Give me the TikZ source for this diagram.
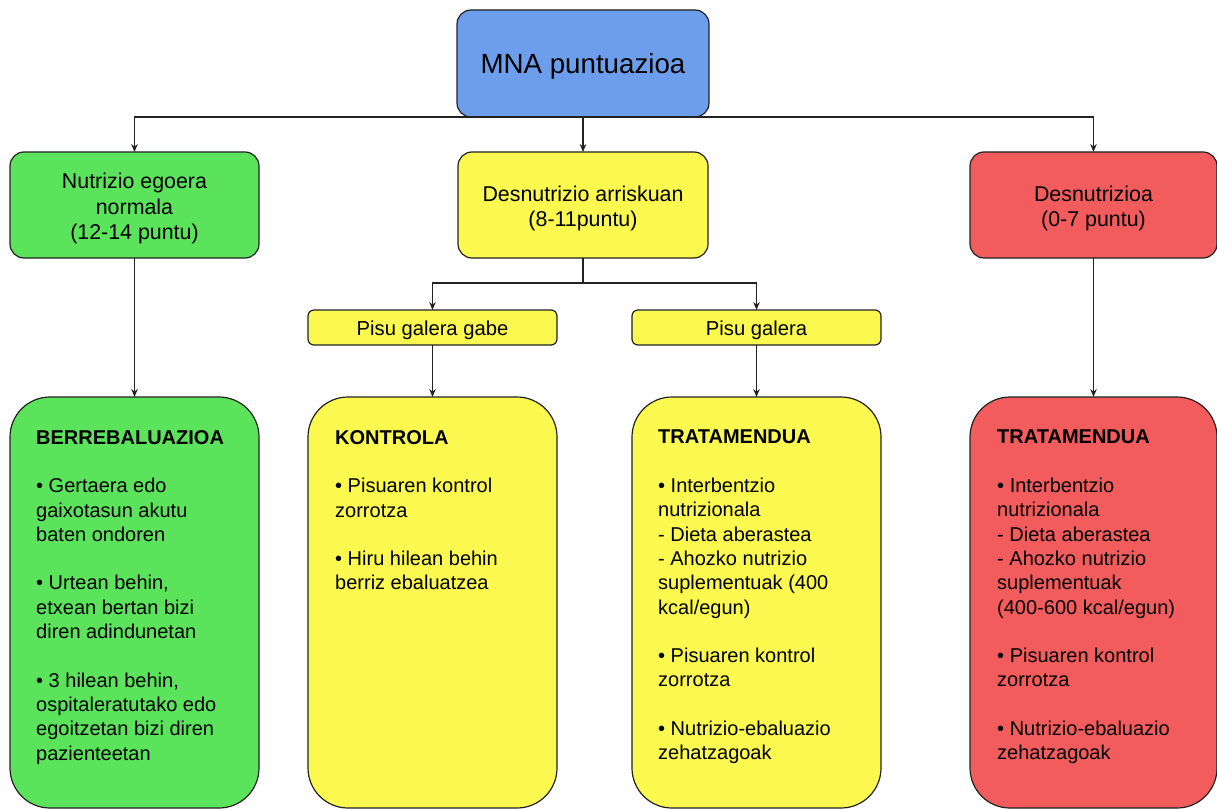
\documentclass[tikz,border=0pt]{standalone}
\usepackage{fontspec}
\setmainfont{Liberation Sans}
\usetikzlibrary{arrows.meta}
\definecolor{mnablue}{HTML}{6D9EEB}
\definecolor{boxgreen}{HTML}{5CE35C}
\definecolor{boxyellow}{HTML}{FBF850}
\definecolor{boxred}{HTML}{F35C5C}
\definecolor{edge}{HTML}{222222}
\begin{document}
\begin{tikzpicture}[x=1pt,y=-1pt,
  box/.style={draw=edge, line width=1.2pt, rounded corners=#1, inner sep=0pt, outer sep=0pt},
  box/.default=14pt,
  conn/.style={draw=edge, line width=1.2pt, -{Stealth[length=8pt,width=6.5pt]}},
  plain/.style={draw=edge, line width=1.2pt},
  titletext/.style={font=\fontsize{27.7}{32}\selectfont, inner sep=0pt},
  toptext/.style={font=\fontsize{21.4}{25.5}\selectfont, align=center, inner sep=0pt},
  subtext/.style={font=\fontsize{20.2}{24}\selectfont, inner sep=0pt},
  bodytext/.style={font=\fontsize{20}{24.3}\selectfont, align=left, inner sep=0pt, anchor=north west}]
\useasboundingbox (0,0) rectangle (1217,810);
\fill[white] (0,0) rectangle (1217,810);

% top
\node[box, fill=mnablue, minimum width=252pt, minimum height=107pt] (mna) at (583,63.5) {};
\node[titletext] (mnatext) at ([yshift=-2.5pt]mna.center) {MNA puntuazioa};

% second row
\node[box, fill=boxgreen, minimum width=249pt, minimum height=106pt] (normal) at (134.5,205) {};
\node[toptext] (normaltext) at ([yshift=-3.5pt]normal.center) {Nutrizio egoera\\normala\\(12-14 puntu)};
\node[box, fill=boxyellow, minimum width=250pt, minimum height=106pt] (risk) at (583,205) {};
\node[toptext] (risktext) at ([yshift=-3.5pt]risk.center) {Desnutrizio arriskuan\\(8-11puntu)};
\node[box, fill=boxred, minimum width=247pt, minimum height=106pt] (mal) at (1093.5,205) {};
\node[toptext] (maltext) at ([yshift=-3.5pt]mal.center) {Desnutrizioa\\(0-7 puntu)};

% sub boxes
\node[box=6pt, fill=boxyellow, minimum width=249pt, minimum height=35pt] (nogain) at (432.5,327.5) {};
\node[subtext] (nogaintext) at ([yshift=-3pt]nogain.center) {Pisu galera gabe};
\node[box=6pt, fill=boxyellow, minimum width=249pt, minimum height=35pt] (loss) at (756.5,327.5) {};
\node[subtext] (losstext) at ([yshift=-3pt]loss.center) {Pisu galera};

% bottom boxes
\node[box=40pt, fill=boxgreen, minimum width=249pt, minimum height=411pt] (reeval) at (134.5,602.5) {};
\node[box=40pt, fill=boxyellow, minimum width=249pt, minimum height=411pt] (control) at (432.5,602.5) {};
\node[box=40pt, fill=boxyellow, minimum width=249pt, minimum height=411pt] (treat) at (756.5,602.5) {};
\node[box=40pt, fill=boxred, minimum width=247pt, minimum height=411pt] (treat2) at (1093.5,602.5) {};

% texts of bottom boxes
\node[bodytext] (reevaltext) at (36,430) {\textbf{BERREBALUAZIOA}\\[24.3pt]
• Gertaera edo\\gaixotasun akutu\\baten ondoren\\[24.3pt]
• Urtean behin,\\etxean bertan bizi\\diren adindunetan\\[24.3pt]
• 3 hilean behin,\\ospitaleratutako edo\\egoitzetan bizi diren\\pazienteetan};
\node[bodytext] (controltext) at (335,430) {\textbf{KONTROLA}\\[24.3pt]
• Pisuaren kontrol\\zorrotza\\[24.3pt]
• Hiru hilean behin\\berriz ebaluatzea};
\node[bodytext] (treattext) at (658,430) {\textbf{TRATAMENDUA}\\[24.3pt]
• Interbentzio\\nutrizionala\\- Dieta aberastea\\- Ahozko nutrizio\\suplementuak (400\\kcal/egun)\\[24.3pt]
• Pisuaren kontrol\\zorrotza\\[24.3pt]
• Nutrizio-ebaluazio\\zehatzagoak};
\node[bodytext] (treat2text) at (997,430) {\textbf{TRATAMENDUA}\\[24.3pt]
• Interbentzio\\nutrizionala\\- Dieta aberastea\\- Ahozko nutrizio\\suplementuak\\(400-600 kcal/egun)\\[24.3pt]
• Pisuaren kontrol\\zorrotza\\[24.3pt]
• Nutrizio-ebaluazio\\zehatzagoak};

% connectors
\draw[conn] (mna.south) -| (normal.north);
\draw[conn] (mna.south) -| (mal.north);
\draw[conn] (mna.south) -- (risk.north);
\coordinate (split) at (583,283);
\draw[plain] (risk.south) -- (split);
\draw[conn] (split) -| (nogain.north);
\draw[conn] (split) -| (loss.north);
\draw[conn] (normal.south) -- (reeval.north);
\draw[conn] (nogain.south) -- (control.north);
\draw[conn] (loss.south) -- (treat.north);
\draw[conn] (mal.south) -- (treat2.north);
\end{tikzpicture}
\end{document}
